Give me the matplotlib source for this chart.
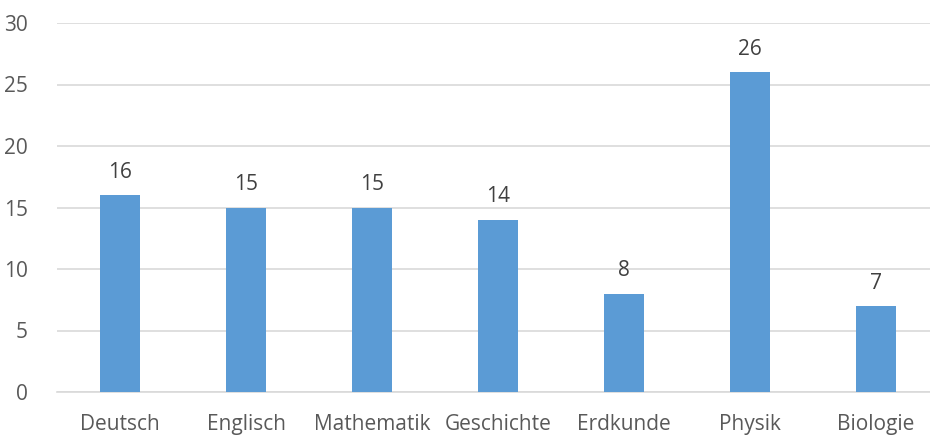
import matplotlib
matplotlib.use("Agg")
import matplotlib.pyplot as plt

categories = ["Deutsch", "Englisch", "Mathematik", "Geschichte", "Erdkunde", "Physik", "Biologie"]
values = [16, 15, 15, 14, 8, 26, 7]
yticks = [0, 5, 10, 15, 20, 25, 30]

plt.rcParams['font.family'] = ['Open Sans', 'DejaVu Sans']
fig = plt.figure(figsize=(9.3, 4.37), dpi=100)
ax = fig.add_axes([57 / 930, 45 / 437, 882 / 930, 369 / 437])
x = range(len(categories))
bars = ax.bar(x, values, width=0.317, color="#5B9BD5", zorder=3)
for xi, v in zip(x, values):
    ax.text(xi, v + 1.0, str(v), ha="center", va="bottom", fontsize=15, color="#404040")
ax.set_xlim(-0.5, len(categories) - 0.5)
ax.set_ylim(0, 30)
ax.set_yticks(yticks)
ax.set_xticks(list(x))
ax.set_xticklabels(categories)
ax.grid(axis="y", color="#D9D9D9", linewidth=1.2, zorder=0)
for s in ["top", "right", "left"]:
    ax.spines[s].set_visible(False)
ax.spines["bottom"].set_color("#D9D9D9")
ax.spines["bottom"].set_linewidth(1.2)
ax.tick_params(axis="both", length=0, labelsize=15, labelcolor="#595959")
ax.tick_params(axis="y", pad=21)
ax.tick_params(axis="x", pad=16)
fig.savefig("out.png", dpi=100)
